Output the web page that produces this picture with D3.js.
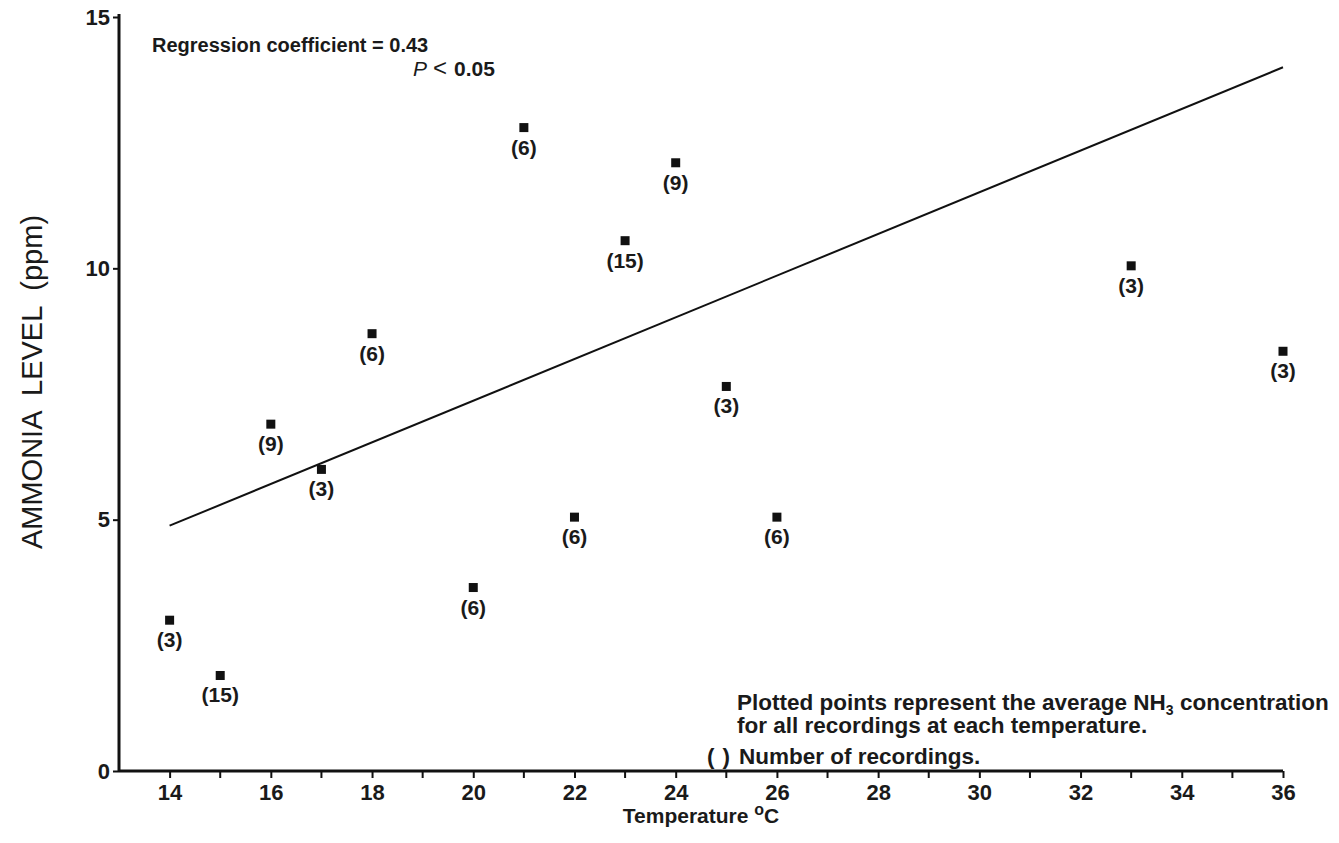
<!DOCTYPE html>
<html>
<head>
<meta charset="utf-8">
<script src="https://cdn.jsdelivr.net/npm/d3@7"></script>
<style>
  body { margin: 0; background: #fff; }
  svg text { font-family: "Liberation Sans", Arial, Helvetica, sans-serif; fill: #1a1a1a; }
</style>
</head>
<body>
<div id="chart"></div>
<script>
// temperature (deg C), mean NH3 level (ppm), number of recordings
const temps  = [14, 15, 16, 17, 18, 20, 21, 22, 23, 24, 25, 26, 33, 36];
const levels = [3.0, 1.9, 6.9, 6.0, 8.7, 3.65, 12.8, 5.05, 10.55, 12.1, 7.65, 5.05, 10.05, 8.35];
const counts = [3, 15, 9, 3, 6, 6, 6, 6, 15, 9, 3, 6, 3, 3];

// fitted line end points
const fitTemps  = [14, 36];
const fitLevels = [4.88, 14.0];

const xTicks = [14, 16, 18, 20, 22, 24, 26, 28, 30, 32, 34, 36];
const xMinor = [15, 17, 19, 21, 23, 25, 27, 29, 31, 33, 35];
const yTicks = [0, 5, 10, 15];

const width = 1339, height = 843;

const svg = d3.select("#chart").append("svg")
    .attr("width", width)
    .attr("height", height);

const x = d3.scaleLinear().domain([13, 36]).range([119, 1283]);
const y = d3.scaleLinear().domain([0, 15]).range([771, 17]);

// x axis
const xAxis = svg.append("g")
    .attr("transform", `translate(0,${y(0)})`)
    .call(d3.axisBottom(x).tickValues(xTicks).tickSize(7).tickPadding(6).tickFormat(d3.format("d")));
xAxis.select(".domain").attr("stroke", "#111").attr("stroke-width", 3).attr("d", `M${x(13)},0H${x(36)}`);
xAxis.selectAll(".tick line").attr("stroke", "#111").attr("stroke-width", 2);
xAxis.selectAll(".tick text")
    .style("font-size", "22px")
    .style("font-weight", "bold")
    .attr("fill", "#1a1a1a");

svg.append("g")
    .selectAll("line")
    .data(xMinor)
    .enter()
    .append("line")
    .attr("x1", d => x(d))
    .attr("x2", d => x(d))
    .attr("y1", y(0))
    .attr("y2", y(0) + 7)
    .attr("stroke", "#111")
    .attr("stroke-width", 2);

// y axis
const yAxis = svg.append("g")
    .attr("transform", `translate(${x(13)},0)`)
    .call(d3.axisLeft(y).tickValues(yTicks).tickSize(6).tickPadding(3).tickFormat(d3.format("d")));
yAxis.select(".domain").attr("stroke", "#111").attr("stroke-width", 3).attr("d", `M0,${y(15) - 3}V${y(0)}`);
yAxis.selectAll(".tick line").attr("stroke", "#111").attr("stroke-width", 2);
yAxis.selectAll(".tick text")
    .style("font-size", "22px")
    .style("font-weight", "bold")
    .attr("fill", "#1a1a1a");

// axis titles
svg.append("text")
    .attr("transform", `translate(42,382) rotate(-90)`)
    .attr("text-anchor", "middle")
    .style("font-size", "29px")
    .style("white-space", "pre")
    .attr("xml:space", "preserve")
    .text("AMMONIA  LEVEL  (ppm)");

const xTitle = svg.append("text")
    .attr("x", 701)
    .attr("y", 823)
    .attr("text-anchor", "middle")
    .style("font-size", "21px")
    .style("font-weight", "bold");
xTitle.append("tspan").text("Temperature ");
xTitle.append("tspan").attr("dy", -8).style("font-size", "16px").text("o");
xTitle.append("tspan").attr("dy", 8).text("C");

// regression line
svg.append("line")
    .attr("x1", x(fitTemps[0]))
    .attr("y1", y(fitLevels[0]))
    .attr("x2", x(fitTemps[1]))
    .attr("y2", y(fitLevels[1]))
    .attr("stroke", "#111")
    .attr("stroke-width", 2);

// points
const pts = temps.map((t, i) => ({ t: t, v: levels[i], n: counts[i] }));

svg.selectAll(".pt")
    .data(pts)
    .enter()
    .append("rect")
    .attr("class", "pt")
    .attr("x", d => x(d.t) - 4.5)
    .attr("y", d => y(d.v) - 4.5)
    .attr("width", 9)
    .attr("height", 9)
    .attr("fill", "#111");

svg.selectAll(".cnt")
    .data(pts)
    .enter()
    .append("text")
    .attr("class", "cnt")
    .attr("x", d => x(d.t))
    .attr("y", d => y(d.v) + 27)
    .attr("text-anchor", "middle")
    .style("font-size", "21px")
    .style("font-weight", "bold")
    .text(d => `(${d.n})`);

// notes
svg.append("text")
    .attr("x", 152)
    .attr("y", 52)
    .style("font-size", "20px")
    .style("font-weight", "bold")
    .text("Regression coefficient = 0.43");

const pText = svg.append("text")
    .attr("x", 413)
    .attr("y", 76)
    .style("font-size", "21px")
    .style("font-weight", "bold");
pText.append("tspan").style("font-style", "italic").style("font-weight", "normal").text("P");
pText.append("tspan").attr("dx", 6).style("font-weight", "normal").style("font-size", "24px").text("<");
pText.append("tspan").attr("dx", 7).text("0.05");

const note = svg.append("text")
    .style("font-size", "22.5px")
    .style("font-weight", "bold");
const l1 = note.append("tspan").attr("x", 737).attr("y", 710);
l1.append("tspan").text("Plotted points represent the average NH");
l1.append("tspan").attr("dy", 5).style("font-size", "14px").text("3");
l1.append("tspan").attr("dy", -5).text(" concentration");
note.append("tspan").attr("x", 737).attr("y", 733).text("for all recordings at each temperature.");
note.append("tspan").attr("x", 707).attr("y", 764).text("(");
note.append("tspan").attr("dx", 8).text(")");
note.append("tspan").attr("dx", 9).text("Number of recordings.");
</script>
</body>
</html>
